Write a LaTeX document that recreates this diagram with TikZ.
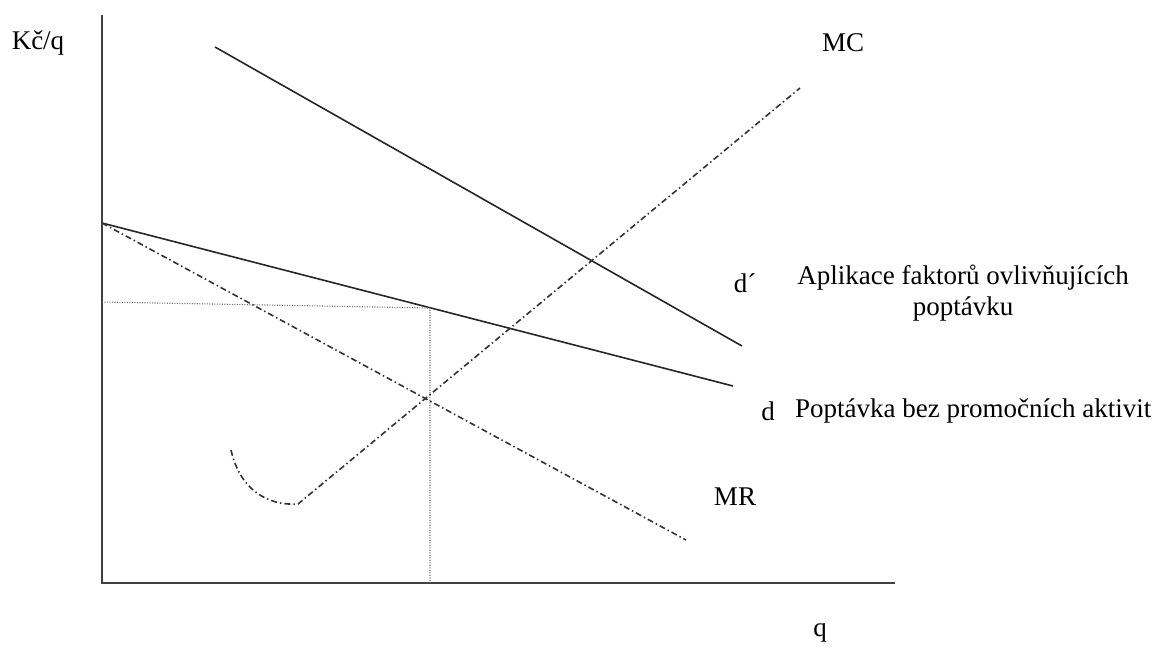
\documentclass[tikz,border=0pt]{standalone}
\usepackage{fontspec}
\setmainfont{Liberation Serif}
\begin{document}
\begin{tikzpicture}[x=1pt,y=-1pt,
  lbl/.style={inner sep=0pt,font=\fontsize{27}{31}\selectfont},
  axisline/.style={line width=1.8pt,draw=black!75},
  solidcurve/.style={line width=1.6pt,draw=black!85},
  dashdot/.style={line width=1.6pt,draw=black!80,dash pattern=on 6pt off 3pt on 1.5pt off 3pt},
  dotline/.style={line width=1.1pt,draw=black!60,dash pattern=on 1pt off 1.5pt}]
\useasboundingbox (0,0) rectangle (1157,646);
% axes
\coordinate (ytop) at (102,15);
\coordinate (origin) at (102,583);
\coordinate (xend) at (895,583);
\draw[axisline] (ytop) -- (origin) -- (xend);
% demand curves
\coordinate (dpA) at (215,47);
\coordinate (dpB) at (742,346);
\draw[solidcurve] (dpA) -- (dpB);
\coordinate (dA) at (102,223);
\coordinate (dB) at (733,386);
\draw[solidcurve] (dA) -- (dB);
% MR
\coordinate (mrB) at (686,540);
\draw[dashdot] (dA) -- (mrB);
% MC
\coordinate (mcA) at (231,450);
\coordinate (mcMin) at (298,504);
\coordinate (mcB) at (800,88);
\draw[dashdot] (mcA) .. controls (240,490) and (268,506) .. (mcMin) -- (mcB);
% dotted equilibrium lines
\coordinate (eqY) at (102,302);
\coordinate (eq) at (430,308);
\coordinate (eqX) at (430,583);
\draw[dotline] (eqY) -- (eq) -- (eqX);
% labels
\node[lbl] (kc) at (38,43) {Kč/q};
\node[lbl] (mc) at (843,43) {MC};
\node[lbl] (q) at (820,633) {q};
\node[lbl] (mr) at (735,497) {MR};
\node[lbl] (dpl) at (745,283) {d´};
\node[lbl,align=center] (dptxt) at (963,293) {Aplikace faktorů ovlivňujících\\poptávku};
\node[lbl] (dl) at (768,411) {d};
\node[lbl,anchor=west] (dtxt) at (795,411) {Poptávka bez promočních aktivit};
\end{tikzpicture}
\end{document}
